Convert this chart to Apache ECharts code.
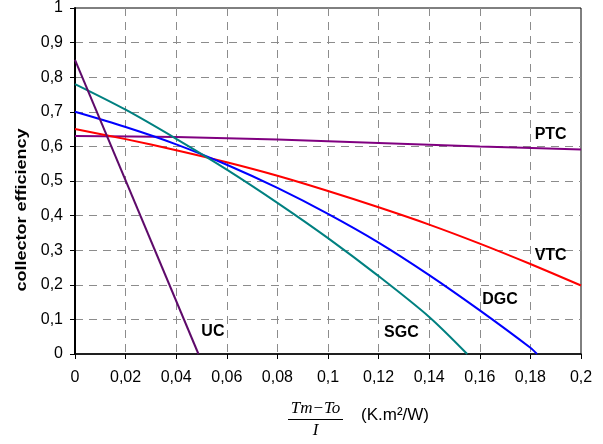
<!DOCTYPE html>
<html>
<head>
<meta charset="utf-8">
<script src="https://cdn.jsdelivr.net/npm/echarts@6/dist/echarts.min.js"></script>
<style>html,body{margin:0;padding:0;background:#fff}#c{width:603px;height:444px}</style>
</head>
<body>
<div id="c"></div>
<script>
// ---- data ----
const xTicks = [0, 0.02, 0.04, 0.06, 0.08, 0.1, 0.12, 0.14, 0.16, 0.18, 0.2];
const yTicks = [0, 0.1, 0.2, 0.3, 0.4, 0.5, 0.6, 0.7, 0.8, 0.9, 1];

const ptcX = [0, 0.04, 0.08, 0.12, 0.16, 0.2];
const ptcY = [0.63, 0.627, 0.62, 0.61, 0.60, 0.591];

const vtcX = [0, 0.02, 0.04, 0.06, 0.08, 0.10, 0.12, 0.14, 0.16, 0.18, 0.2];
const vtcY = [0.65, 0.621, 0.589, 0.554, 0.515, 0.471, 0.424, 0.374, 0.319, 0.26, 0.198];

const dgcX = [0, 0.02, 0.04, 0.06, 0.08, 0.10, 0.12, 0.14, 0.16, 0.18, 0.1826];
const dgcY = [0.70, 0.656, 0.606, 0.547, 0.48, 0.405, 0.322, 0.228, 0.126, 0.018, 0];

const sgcX = [0, 0.02, 0.04, 0.06, 0.08, 0.10, 0.12, 0.14, 0.155];
const sgcY = [0.78, 0.706, 0.622, 0.533, 0.437, 0.335, 0.225, 0.107, 0];

const ucX = [0, 0.0488];
const ucY = [0.85, 0];

const labelNames = ['PTC', 'VTC', 'DGC', 'SGC', 'UC'];
const labelX = [0.188, 0.188, 0.168, 0.129, 0.0545];
const labelY = [0.634, 0.285, 0.158, 0.062, 0.065];

const yTitle = 'collector efficiency';
const xNum = 'Tm\u2212To';
const xDen = 'I';
const xUnit = '(K.m\u00B2/W)';

// ---- chart ----
const pairs = (xs, ys) => xs.map((x, i) => [x, ys[i]]);
const fmt = v => String(parseFloat(v.toFixed(3))).replace('.', ',');
const tickFont = "'Liberation Sans Narrow', 'Liberation Sans', Arial, sans-serif";

function line(name, xs, ys, color) {
  return {
    name, type: 'line', data: pairs(xs, ys), showSymbol: false, symbol: 'none',
    lineStyle: { color, width: 2 }, smooth: 0.3, z: 3, animation: false
  };
}

const chart = echarts.init(document.getElementById('c'), null, { renderer: 'canvas' });
chart.setOption({
  animation: false,
  backgroundColor: '#fff',
  grid: { left: 75, right: 22, top: 8, bottom: 90, show: true, borderColor: '#000', borderWidth: 1, backgroundColor: 'transparent' },
  xAxis: {
    type: 'value', min: 0, max: 0.2, interval: 0.02,
    axisLine: { show: true, lineStyle: { color: '#000', width: 1.5 } },
    axisTick: { show: true, length: 5, lineStyle: { color: '#000' } },
    axisLabel: { margin: 16, fontSize: 16, fontFamily: tickFont, color: '#000', formatter: fmt },
    splitLine: { show: true, showMinLine: false, showMaxLine: false, lineStyle: { color: '#8c8c8c', type: [8, 6], width: 1 } }
  },
  yAxis: {
    type: 'value', min: 0, max: 1, interval: 0.1,
    axisLine: { show: true, lineStyle: { color: '#000', width: 2 } },
    axisTick: { show: true, length: 5, lineStyle: { color: '#000' } },
    axisLabel: { margin: 12, fontSize: 16, fontFamily: tickFont, color: '#000', formatter: fmt },
    splitLine: { show: true, showMinLine: false, showMaxLine: false, lineStyle: { color: '#8c8c8c', type: [8, 6], width: 1 } }
  },
  series: [
    line('PTC', ptcX, ptcY, '#800080'),
    line('VTC', vtcX, vtcY, '#ff0000'),
    line('DGC', dgcX, dgcY, '#0000ff'),
    line('SGC', sgcX, sgcY, '#008080'),
    { name: 'UC', type: 'line', data: pairs(ucX, ucY), showSymbol: false, symbol: 'none',
      lineStyle: { color: '#5e0a6a', width: 2 }, z: 3 },
    { name: 'labels', type: 'scatter', symbolSize: 0, z: 5,
      itemStyle: { opacity: 1 },
      data: labelNames.map((n, i) => ({ name: n, value: [labelX[i], labelY[i]] })),
      label: { show: true, position: 'inside', formatter: p => p.name,
        fontSize: 16, fontWeight: 'bold', fontFamily: "'Liberation Sans', Arial, sans-serif", color: '#000' } }
  ],
  graphic: [
    { type: 'text', x: 22, y: 210, rotation: Math.PI / 2, scaleY: 0.8,
      style: { text: yTitle, font: "bold 18px 'Liberation Sans', Arial, sans-serif", fill: '#000', align: 'center', verticalAlign: 'middle' } },
    { type: 'text', x: 315.5, y: 409,
      style: { text: xNum, font: "italic 17px 'Liberation Serif', 'Times New Roman', serif", fill: '#000', align: 'center', verticalAlign: 'middle' } },
    { type: 'line', shape: { x1: 288, y1: 419.5, x2: 343, y2: 419.5 }, style: { stroke: '#000', lineWidth: 1 } },
    { type: 'text', x: 315.5, y: 431,
      style: { text: xDen, font: "italic 17px 'Liberation Serif', 'Times New Roman', serif", fill: '#000', align: 'center', verticalAlign: 'middle' } },
    { type: 'text', x: 395, y: 415,
      style: { text: xUnit, font: "17px 'Liberation Sans', Arial, sans-serif", fill: '#000', align: 'center', verticalAlign: 'middle' } }
  ]
});
</script>
</body>
</html>
